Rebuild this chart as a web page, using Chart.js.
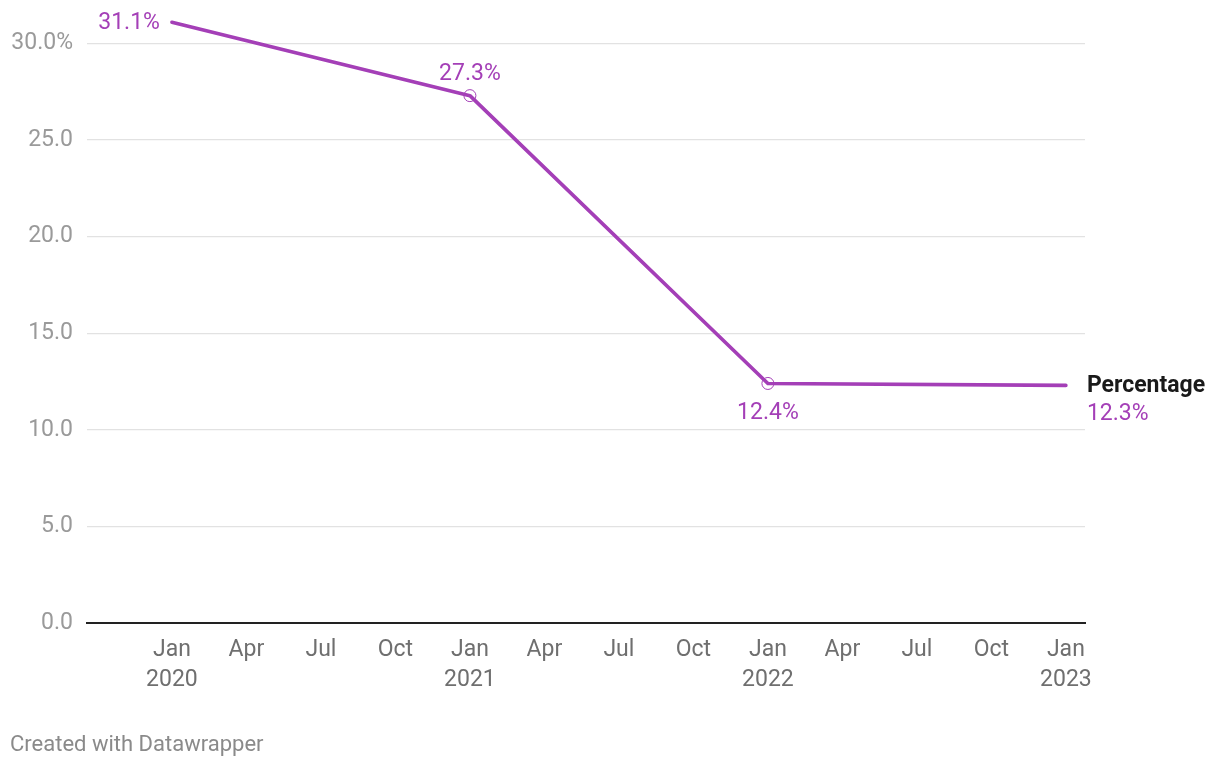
<!DOCTYPE html>
<html>
<head>
<meta charset="utf-8">
<script src="https://cdn.jsdelivr.net/npm/chart.js@4/dist/chart.umd.min.js"></script>
<style>
  html, body { margin: 0; padding: 0; background: #fff; }
  #wrap { position: relative; width: 1220px; height: 768px; }
  #footer { position: absolute; left: 10px; top: 731px; font-family: Roboto, sans-serif; font-size: 22px; color: #8a8a8a; }
</style>
</head>
<body>
<div id="wrap">
  <canvas id="c" width="1220" height="768"></canvas>
  <div id="footer">Created with Datawrapper</div>
</div>
<script>
// ---- data ----
const categories = ['2020-01', '2021-01', '2022-01', '2023-01'];
const percentage = [31.1, 27.3, 12.4, 12.3];
const pointLabels = ['31.1%', '27.3%', '12.4%', '12.3%'];
const seriesName = 'Percentage';
const yTicks = [0, 5, 10, 15, 20, 25, 30];
const yTickLabels = ['0.0', '5.0', '10.0', '15.0', '20.0', '25.0', '30.0%'];
const xTickMonths = [0, 3, 6, 9, 12, 15, 18, 21, 24, 27, 30, 33, 36];
const xTickLabels = [['Jan', '2020'], 'Apr', 'Jul', 'Oct', ['Jan', '2021'], 'Apr', 'Jul', 'Oct', ['Jan', '2022'], 'Apr', 'Jul', 'Oct', ['Jan', '2023']];

// ---- styling ----
const PURPLE = '#a43fb7';
const FONT = 'Roboto, sans-serif';

function monthIndex(s) {
  const [y, m] = s.split('-').map(Number);
  return (y - 2020) * 12 + (m - 1);
}
const points = categories.map((c, i) => ({ x: monthIndex(c), y: percentage[i] }));

const labelPlugin = {
  id: 'labels',
  afterDatasetsDraw(chart) {
    const ctx = chart.ctx;
    const meta = chart.getDatasetMeta(0);
    const n = meta.data.length;
    ctx.save();
    ctx.font = '23px ' + FONT;
    ctx.fillStyle = PURPLE;
    ctx.textBaseline = 'middle';
    meta.data.forEach((pt, i) => {
      const prev = i > 0 ? percentage[i - 1] : null;
      const next = i < n - 1 ? percentage[i + 1] : null;
      if (i === 0) {
        ctx.textAlign = 'right';
        ctx.fillText(pointLabels[i], pt.x - 12, pt.y + 1);
      } else if (i === n - 1) {
        ctx.textAlign = 'left';
        ctx.font = 'bold 23px ' + FONT;
        ctx.fillStyle = '#1a1a1a';
        ctx.fillText(seriesName, pt.x + 21, pt.y + 1);
        ctx.font = '23px ' + FONT;
        ctx.fillStyle = PURPLE;
        ctx.fillText(pointLabels[i], pt.x + 21, pt.y + 29);
      } else {
        ctx.textAlign = 'center';
        const below = percentage[i] < prev && next !== null && Math.abs(next - percentage[i]) < 1;
        ctx.fillText(pointLabels[i], pt.x, below ? pt.y + 30 : pt.y - 21);
      }
    });
    ctx.restore();
  }
};

new Chart(document.getElementById('c'), {
  type: 'line',
  data: {
    datasets: [{
      label: seriesName,
      data: points,
      borderColor: PURPLE,
      borderWidth: 3.6,
      tension: 0,
      fill: false,
      pointRadius: (ctx) => (ctx.dataIndex === 0 || ctx.dataIndex === percentage.length - 1) ? 0 : 6,
      pointBorderWidth: 1,
      pointBorderColor: PURPLE,
      pointBackgroundColor: 'rgba(255,255,255,0)',
      borderCapStyle: 'round',
      borderJoinStyle: 'round'
    }]
  },
  options: {
    responsive: false,
    animation: false,
    layout: { padding: { top: 14.5, right: 135, bottom: 55, left: 0 } },
    plugins: { legend: { display: false }, tooltip: { enabled: false } },
    scales: {
      x: {
        type: 'linear',
        min: -3.42,
        max: 36.77,
        afterBuildTicks: (s) => { s.ticks = xTickMonths.map(v => ({ value: v })); },
        afterFit: (s) => { s.height = 90; s.paddingLeft = 0; s.paddingRight = 0; },
        grid: { display: false, drawTicks: false },
        border: { display: true, color: '#222', width: 2 },
        ticks: {
          autoSkip: false,
          maxRotation: 0,
          padding: 12,
          color: '#6f6f6f',
          font: { family: FONT, size: 23, lineHeight: 1.3 },
          callback: (v) => xTickLabels[xTickMonths.indexOf(v)]
        }
      },
      y: {
        min: 0,
        max: 31.5,
        afterBuildTicks: (s) => { s.ticks = yTicks.map(v => ({ value: v })); },
        afterFit: (s) => { s.width = 87; s.paddingTop = 0; s.paddingBottom = 0; },
        grid: { color: '#e2e2e2', lineWidth: 1.2, drawTicks: false },
        border: { display: false },
        ticks: {
          padding: 14,
          color: '#9a9a9a',
          font: { family: FONT, size: 23 },
          callback: (v) => yTickLabels[yTicks.indexOf(v)]
        }
      }
    }
  },
  plugins: [labelPlugin]
});
</script>
</body>
</html>
